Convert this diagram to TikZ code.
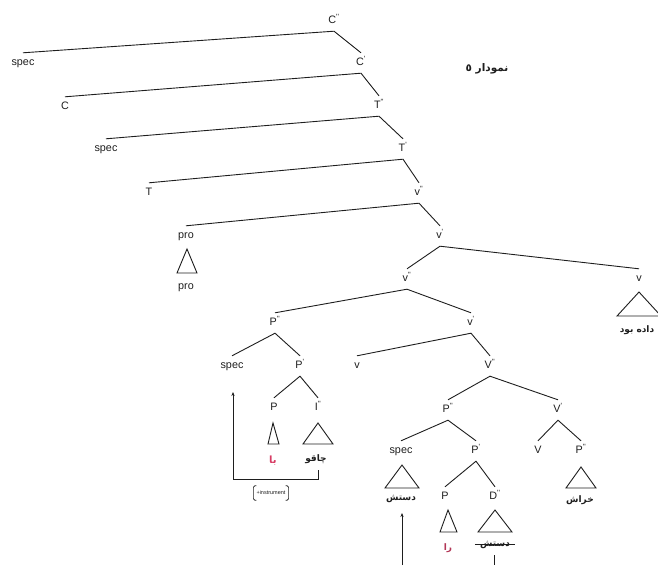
\documentclass[tikz,border=0pt]{standalone}
\usepackage{fontspec}
\setmainfont{Liberation Sans}
\newfontfamily\arabicfont[Script=Arabic]{DejaVu Sans}
\TeXXeTstate=1
\usetikzlibrary{arrows.meta}
\definecolor{ink}{RGB}{30,30,30}
\definecolor{pinkred}{RGB}{215,60,100}
% bar-level marks written as small raised ticks
\newcommand\sgl{\textsuperscript{\textquotesingle}}
\newcommand\dbl{\textsuperscript{\textquotesingle\textquotesingle}}
\newcommand\rtl[1]{\beginR #1\endR}
\begin{document}
\begin{tikzpicture}[x=1pt,y=-1pt,
  lab/.style={inner sep=0pt, text height=7.5pt, text depth=2.5pt, minimum height=20pt,
              font=\fontsize{10.8}{12}\selectfont, text=ink},
  word/.style={inner sep=1pt, font=\fontsize{9}{11}\selectfont\arabicfont\bfseries, text=ink},
  edge/.style={draw=ink, line width=0.9pt},
  roof/.style={draw=ink, line width=0.9pt, line join=miter},
  move/.style={draw=ink, line width=0.6pt},
  tip/.style={-{Stealth[length=4pt,width=3.2pt]}}]
\useasboundingbox (0,0) rectangle (658,565);

% ---- spine of the tree ----
\node[lab] (Cpp)   at (334,21)  {C\dbl};
\node[lab] (spec1) at (23,63)   {spec};
\node[lab] (Cp)    at (361,63)  {C\sgl};
\node[lab] (C)     at (65,107)  {C};
\node[lab] (Tpp)   at (379,106) {T\dbl};
\node[lab] (spec2) at (106,149) {spec};
\node[lab] (Tp)    at (403,149) {T\sgl};
\node[lab] (T)     at (149,193) {T};
\node[lab] (vpp1)  at (419,193) {v\dbl};
\node[lab] (pro1)  at (186,236) {pro};
\node[lab] (pro2)  at (186,287) {pro};
\node[lab] (vp1)   at (440,236) {v\sgl};
\node[lab] (vpp2)  at (407,279) {v\dbl};
\node[lab] (vR)    at (639,279) {v};
\node[word] (dadebud) at (637,330) {\rtl{داده بود}};

% ---- left part: instrument phrase and lower v' ----
\node[lab] (Ppp1)  at (275,323) {P\dbl};
\node[lab] (vp2)   at (471,323) {v\sgl};
\node[lab] (spec3) at (232,366) {spec};
\node[lab] (Pp1)   at (300,366) {P\sgl};
\node[lab] (vs)    at (357,366) {v};
\node[lab] (Vpp)   at (490,366) {V\dbl};
\node[lab] (P1)    at (274,408) {P};
\node[lab] (Ipp)   at (318,408) {I\dbl};
\node[word, text=pinkred, font=\fontsize{10}{11}\selectfont\arabicfont\bfseries] (ba) at (273,461) {\rtl{با}};
\node[word] (chaqu) at (316,459) {\rtl{چاقو}};

% ---- VP shell ----
\node[lab] (Ppp2)  at (448,410) {P\dbl};
\node[lab] (Vp)    at (558,410) {V\sgl};
\node[lab] (spec4) at (401,451) {spec};
\node[lab] (Pp2)   at (476,451) {P\sgl};
\node[lab] (V)     at (538,451) {V};
\node[lab] (Ppp3)  at (581,451) {P\dbl};
\node[lab] (P2)    at (445,497) {P};
\node[lab] (Dpp)   at (495,497) {D\dbl};
\node[word] (dast1) at (401,499) {\rtl{دستش}};
\node[word, text=pinkred!80!ink] (ra) at (448,548) {\rtl{را}};
\node[word] (dast2) at (495,545) {\rtl{دستش}};
\node[word] (khrash) at (580,500) {\rtl{خراش}};

% ---- title ----
\node[inner sep=0pt, font=\fontsize{10.5}{12}\selectfont\arabicfont\bfseries, text=ink] (title)
  at (487,69) {\rtl{نمودار ٥}};

% ---- branches ----
\draw[edge] (spec1.north) -- (Cpp.south) -- (Cp.north);
\draw[edge] (C.north) -- (Cp.south) -- (Tpp.north);
\draw[edge] (spec2.north) -- (Tpp.south) -- (Tp.north);
\draw[edge] (T.north) -- (Tp.south) -- (vpp1.north);
\draw[edge] (pro1.north) -- (vpp1.south) -- (vp1.north);
\draw[edge] (vpp2.north) -- (vp1.south) -- (vR.north);
\draw[edge] (Ppp1.north) -- (vpp2.south) -- (vp2.north);
\draw[edge] (spec3.north) -- (Ppp1.south) -- (Pp1.north);
\draw[edge] (P1.north) -- (Pp1.south) -- (Ipp.north);
\draw[edge] (vs.north) -- (vp2.south) -- (Vpp.north);
\draw[edge] (Ppp2.north) -- (Vpp.south) -- (Vp.north);
\draw[edge] (spec4.north) -- (Ppp2.south) -- (Pp2.north);
\draw[edge] (P2.north) -- (Pp2.south) -- (Dpp.north);
\draw[edge] (V.north) -- (Vp.south) -- (Ppp3.north);

% ---- roofs ----
\draw[roof] (177,273) -- (187,249) -- (197,273) -- cycle;
\draw[roof] (617,316) -- (639,292) -- (661,316) -- cycle;
\draw[roof] (268,444) -- (273,423) -- (279,444) -- cycle;
\draw[roof] (303,444) -- (318,423) -- (333,444) -- cycle;
\draw[roof] (385,488) -- (402,465) -- (419,488) -- cycle;
\draw[roof] (566,488) -- (581,467) -- (596,488) -- cycle;
\draw[roof] (440,532) -- (448,510) -- (457,532) -- cycle;
\draw[roof] (478,532) -- (495,510) -- (512,532) -- cycle;

% struck-out copy of the moved phrase
\draw[ink, line width=0.6pt] ([xshift=-4pt,yshift=1pt]dast2.west) -- ([xshift=4pt,yshift=1pt]dast2.east);

% ---- movement of the instrument phrase ----
\coordinate (m1top) at (318,470);
\coordinate (m1r)   at (318,479);
\coordinate (m1l)   at (233,479);
\coordinate (m1tip) at (233,392);
\draw[move, tip] (m1top) -- (m1r) -- (m1l) -- (m1tip);

\node[inner xsep=3pt, inner ysep=5pt, font=\fontsize{5.5}{6}\selectfont, text=ink] (feat) at (271,493) {+instrument};
\draw[move, rounded corners=1.5pt]
  ([xshift=3pt]feat.north west) -- (feat.north west) -- (feat.south west) -- ([xshift=3pt]feat.south west);
\draw[move, rounded corners=1.5pt]
  ([xshift=-3pt]feat.north east) -- (feat.north east) -- (feat.south east) -- ([xshift=-3pt]feat.south east);

% ---- movement of the object phrase ----
\coordinate (m2bot) at (402,565);
\coordinate (m2tip) at (402,513);
\draw[move, tip] (m2bot) -- (m2tip);
\coordinate (m3top) at (494,555);
\coordinate (m3bot) at (494,565);
\draw[move] (m3top) -- (m3bot);
\end{tikzpicture}
\end{document}
